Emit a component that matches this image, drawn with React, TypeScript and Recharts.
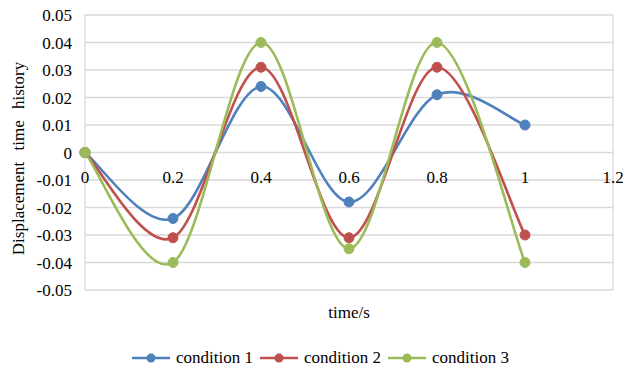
import React from 'react';
import {
  LineChart,
  Line,
  XAxis,
  YAxis,
  CartesianGrid,
  Legend,
  ReferenceDot,
} from 'recharts';

const times = [0, 0.2, 0.4, 0.6, 0.8, 1];
const condition1 = [0, -0.024, 0.024, -0.018, 0.021, 0.01];
const condition2 = [0, -0.031, 0.031, -0.031, 0.031, -0.03];
const condition3 = [0, -0.04, 0.04, -0.035, 0.04, -0.04];

const xTicks = [0, 0.2, 0.4, 0.6, 0.8, 1, 1.2];
const xTickLabels = ['0', '0.2', '0.4', '0.6', '0.8', '1', '1.2'];
const yTicks = [-0.05, -0.04, -0.03, -0.02, -0.01, 0, 0.01, 0.02, 0.03, 0.04, 0.05];
const yTickLabels = ['-0.05', '-0.04', '-0.03', '-0.02', '-0.01', '0', '0.01', '0.02', '0.03', '0.04', '0.05'];

const seriesNames = ['condition 1', 'condition 2', 'condition 3'];
const seriesColors = ['#4F81BD', '#C0504D', '#9BBB59'];

const data = times.map((t, i) => ({
  time: t,
  c1: condition1[i],
  c2: condition2[i],
  c3: condition3[i],
}));

const FONT = 'Liberation Serif';

// Excel-like smoothed line: cubic bezier through points (catmull-rom, 1/6 handles)
const excelSmooth = (context: any) => {
  let pts: [number, number][] = [];
  return {
    areaStart() {},
    areaEnd() {},
    lineStart() {
      pts = [];
    },
    lineEnd() {
      const n = pts.length;
      if (!n) return;
      context.moveTo(pts[0][0], pts[0][1]);
      for (let i = 0; i < n - 1; i++) {
        const p0 = pts[Math.max(i - 1, 0)];
        const p1 = pts[i];
        const p2 = pts[i + 1];
        const p3 = pts[Math.min(i + 2, n - 1)];
        context.bezierCurveTo(
          p1[0] + (p2[0] - p0[0]) / 6,
          p1[1] + (p2[1] - p0[1]) / 6,
          p2[0] - (p3[0] - p1[0]) / 6,
          p2[1] - (p3[1] - p1[1]) / 6,
          p2[0],
          p2[1]
        );
      }
    },
    point(x: number, y: number) {
      pts.push([+x, +y]);
    },
  };
};

const formatY = (v: number) => {
  const idx = yTicks.findIndex((t) => Math.abs(t - v) < 1e-9);
  return idx >= 0 ? yTickLabels[idx] : String(v);
};

const LegendContent = () => (
  <div
    style={{
      display: 'flex',
      justifyContent: 'center',
      alignItems: 'center',
      fontFamily: FONT,
      fontSize: 17,
      color: '#000',
      paddingLeft: 7,
      height: 20,
    }}
  >
    {seriesNames.map((name, i) => (
      <div key={name} style={{ display: 'flex', alignItems: 'center', marginRight: i < 2 ? 7 : 0 }}>
        <svg width={38} height={12} style={{ marginRight: 6 }}>
          <line x1={0} y1={6} x2={38} y2={6} stroke={seriesColors[i]} strokeWidth={2.5} />
          <circle cx={19} cy={6} r={4.5} fill={seriesColors[i]} />
        </svg>
        <span>{name}</span>
      </div>
    ))}
  </div>
);

const YLabel = ({ viewBox }: any) => {
  const x = viewBox.x + 18;
  const y = viewBox.y + viewBox.height / 2 + 6;
  return (
    <text
      x={x}
      y={y}
      transform={`rotate(-90, ${x}, ${y})`}
      textAnchor="middle"
      dominantBaseline="central"
      fontFamily={FONT}
      fontSize={17}
      fill="#000"
      style={{ wordSpacing: 7 }}
    >
      Displacement time history
    </text>
  );
};

const App: React.FC = () => {
  const keys = ['c1', 'c2', 'c3'];
  return (
    <div style={{ position: 'absolute', left: 0, top: 0, width: 634, height: 371, background: '#fff', fontFamily: FONT }}>
      <LineChart
        width={634}
        height={371}
        data={data}
        margin={{ top: 15, right: 21, left: 0, bottom: 3 }}
      >
        <CartesianGrid stroke="#D9D9D9" strokeWidth={1.3} />
        <XAxis
          dataKey="time"
          type="number"
          domain={[0, 1.2]}
          ticks={xTicks}
          tick={false}
          axisLine={false}
          tickLine={false}
          height={58}
          label={{
            value: 'time/s',
            position: 'insideTop',
            offset: 16,
            fill: '#000',
            fontSize: 17,
            fontFamily: FONT,
          }}
        />
        <YAxis
          type="number"
          domain={[-0.05, 0.05]}
          ticks={yTicks}
          tickFormatter={formatY}
          width={85}
          axisLine={false}
          tickLine={false}
          tickSize={0}
          tickMargin={13}
          tick={{ fill: '#000', fontSize: 17, fontFamily: FONT }}
          label={{ content: <YLabel /> }}
        />
        {xTicks.map((t, i) => (
          <ReferenceDot
            key={t}
            x={t}
            y={0}
            r={0}
            fill="none"
            stroke="none"
            label={{
              value: xTickLabels[i],
              position: 'bottom',
              offset: 18,
              fill: '#000',
              fontSize: 17,
              fontFamily: FONT,
            }}
          />
        ))}
        <Legend verticalAlign="bottom" height={20} wrapperStyle={{ left: 0, width: 634 }} content={<LegendContent />} />
        {keys.map((k, i) => (
          <Line
            key={k}
            dataKey={k}
            name={seriesNames[i]}
            type={excelSmooth as any}
            stroke={seriesColors[i]}
            strokeWidth={2.6}
            dot={{ r: 5, fill: seriesColors[i], stroke: seriesColors[i], strokeWidth: 1 }}
            activeDot={false}
            isAnimationActive={false}
          />
        ))}
      </LineChart>
    </div>
  );
};

export default App;
